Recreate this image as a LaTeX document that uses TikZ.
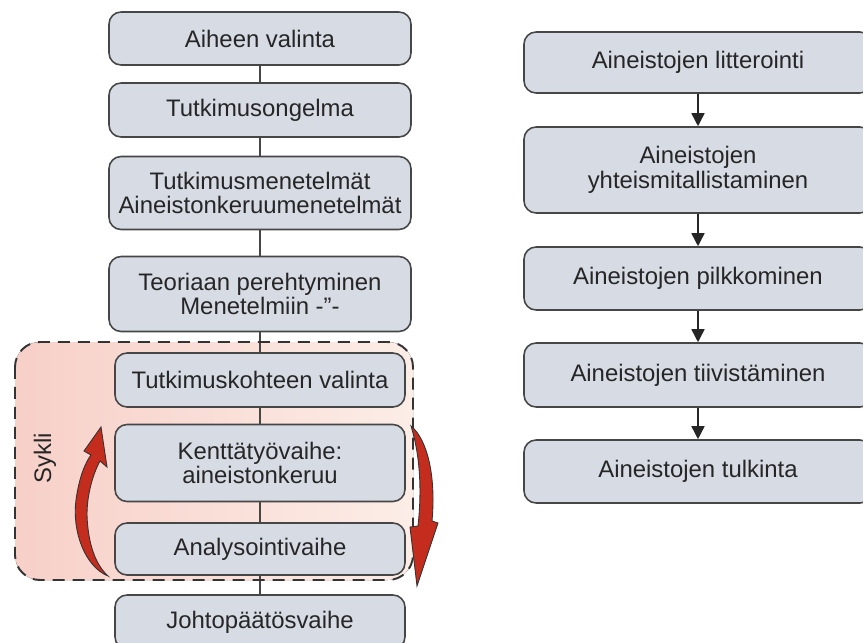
\documentclass[tikz,border=0pt]{standalone}
\usepackage{fontspec}
\setmainfont{Liberation Sans}
\usetikzlibrary{arrows.meta}
\definecolor{boxfill}{RGB}{214,219,228}
\definecolor{boxline}{RGB}{70,70,70}
\definecolor{syklileft}{RGB}{247,208,200}
\definecolor{sykliright}{RGB}{252,237,231}
\definecolor{cyclered}{RGB}{196,44,30}
\tikzset{
  stage/.style={draw=boxline, line width=0.9pt, fill=boxfill, rounded corners=0.24cm,
    align=center, font=\fontsize{13.6}{14}\selectfont, text=black!85, inner sep=2pt},
  link/.style={draw=boxline, line width=0.9pt},
  flow/.style={draw=black!85, line width=0.9pt, -{Triangle[width=0.26cm,length=0.26cm]}},
  cyclearrow/.style={fill=cyclered, draw=black!80, line width=0.5pt},
  cyclebox/.style={draw=black!80, line width=1.1pt, dash pattern=on 0.24cm off 0.16cm, rounded corners=0.5cm}
}
\begin{document}
\begin{tikzpicture}[x=0.02cm, y=-0.02cm]
\useasboundingbox (0,0) rectangle (863,643);
\clip (0,0) rectangle (863,643);
\fill[left color=syklileft, right color=sykliright, rounded corners=0.5cm] (15,342) rectangle (413,580);
\node[rotate=90, font=\fontsize{13.6}{14}\selectfont, text=black!85] (sykli) at (45,458) {Sykli};

\node[stage, minimum width=6.04cm, minimum height=1.06cm] (aihe) at (260,38.5) {Aiheen valinta};
\node[stage, minimum width=6.04cm, minimum height=1.08cm] (ongelma) at (260,110) {Tutkimusongelma};
\node[stage, minimum width=6.04cm, minimum height=1.46cm] (menetelmat) at (260,193) {Tutkimusmenetelmät\\Aineistonkeruumenetelmät};
\node[stage, minimum width=6.04cm, minimum height=1.5cm] (teoria) at (260,294) {Teoriaan perehtyminen\\Menetelmiin -"-};
\node[stage, minimum width=5.8cm, minimum height=1.08cm] (kohde) at (260,380) {Tutkimuskohteen valinta};
\node[stage, minimum width=5.8cm, minimum height=1.54cm] (kentta) at (260,463) {Kenttätyövaihe:\\aineistonkeruu};
\node[stage, minimum width=5.8cm, minimum height=1.04cm] (analyysi) at (260,549) {Analysointivaihe};
\node[stage, minimum width=5.8cm, minimum height=1.08cm] (johtopaatos) at (260,622) {Johtopäätösvaihe};

\draw[link] (aihe) -- (ongelma);
\draw[link] (ongelma) -- (menetelmat);
\draw[link] (menetelmat) -- (teoria);
\draw[link] (teoria) -- (kohde);
\draw[link] (kohde) -- (kentta);
\draw[link] (kentta) -- (analyysi);
\draw[link] (analyysi) -- (johtopaatos);

\draw[cyclebox] (15,342) rectangle (413,580);

\draw[cyclearrow] (108,576) .. controls (84,566) and (72,530) .. (76,500)
  .. controls (79,478) and (85,463) .. (91,455) -- (84,451) -- (101,427) -- (107,467)
  -- (100,461) .. controls (93,474) and (87,494) .. (87,515)
  .. controls (88,545) and (96,565) .. (108,576) -- cycle;
\draw[cyclearrow] (411,426) .. controls (428,440) and (436,478) .. (432,521)
  -- (438,523) -- (417,586) -- (410,527) -- (418,526)
  .. controls (422,490) and (420,455) .. (411,426) -- cycle;

\node[stage, minimum width=6.96cm, minimum height=1.22cm] (litterointi) at (698,62.5) {Aineistojen litterointi};
\node[stage, minimum width=6.96cm, minimum height=1.72cm] (yhteis) at (698,170) {Aineistojen\\yhteismitallistaminen};
\node[stage, minimum width=6.96cm, minimum height=1.26cm] (pilkko) at (698,278.5) {Aineistojen pilkkominen};
\node[stage, minimum width=6.96cm, minimum height=1.28cm] (tiivis) at (698,375) {Aineistojen tiivistäminen};
\node[stage, minimum width=6.96cm, minimum height=1.26cm] (tulkinta) at (698,471.5) {Aineistojen tulkinta};

\draw[flow] (litterointi) -- (yhteis);
\draw[flow] (yhteis) -- (pilkko);
\draw[flow] (pilkko) -- (tiivis);
\draw[flow] (tiivis) -- (tulkinta);
\end{tikzpicture}
\end{document}
